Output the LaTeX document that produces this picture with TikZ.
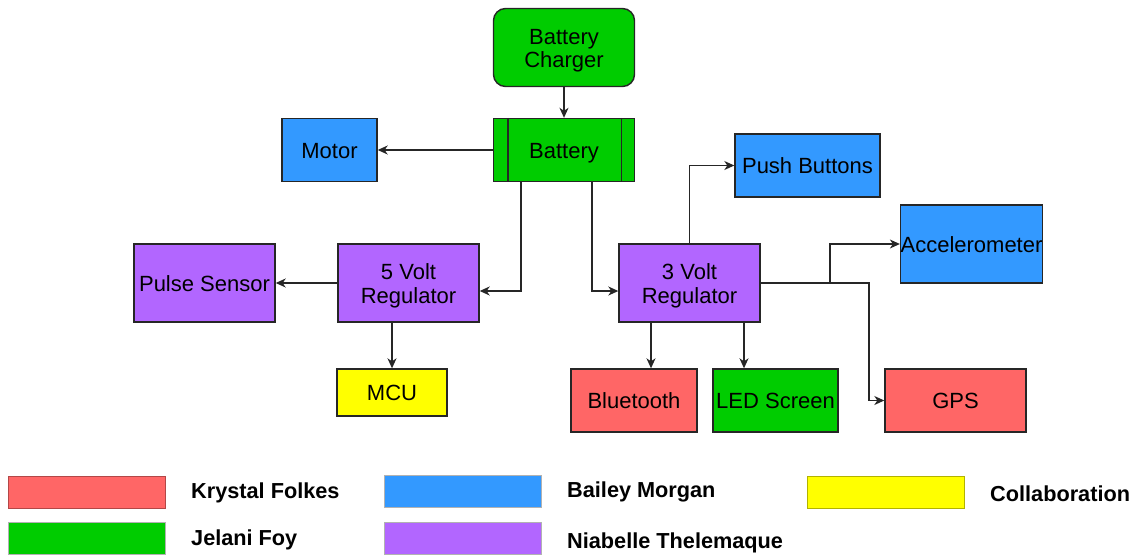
\documentclass[tikz,border=0pt]{standalone}
\usepackage{fontspec}
\setmainfont{Liberation Sans}
\usetikzlibrary{arrows.meta, positioning}

\definecolor{krystal}{HTML}{FF6666}
\definecolor{jelani}{HTML}{00CC00}
\definecolor{bailey}{HTML}{3399FF}
\definecolor{niabelle}{HTML}{B266FF}
\definecolor{collab}{HTML}{FFFF00}

\begin{document}
\begin{tikzpicture}[
    x=1pt, y=-1pt,
    every node/.style={align=center, inner sep=0pt, font=\fontsize{22}{23.5}\selectfont},
    blk/.style={draw=black!85, line width=1.4pt, rectangle, minimum width=141pt, minimum height=78pt,
        text height=16pt, text depth=0pt},
    twoline/.style={text height=40pt, text depth=0pt},
    short/.style={blk, minimum height=63pt},
    legbox/.style={draw=black!30, line width=0.8pt, minimum width=157pt, minimum height=32pt},
    legtext/.style={anchor=west, font=\bfseries\fontsize{21.7}{24}\selectfont},
    arrow/.style={-{Stealth[length=10pt, width=9pt, inset=3pt]}, line width=1.4pt, black!85}
]
\useasboundingbox (0,0) rectangle (1138,557);

% top of the chain
\node (charger) [blk, twoline, fill=jelani, rounded corners=12pt] at (564,47.5) {Battery\\Charger};
\node (bat) [short, fill=jelani] at (564,150) {Battery};
\draw[black!85, line width=1.4pt] ([xshift=15pt]bat.north west) -- ([xshift=15pt]bat.south west);
\draw[black!85, line width=1.4pt] ([xshift=-14pt]bat.north east) -- ([xshift=-14pt]bat.south east);
\node (motor) [short, fill=bailey, minimum width=95pt] at (329.5,150) {Motor};

% regulators
\node (reg5) [blk, twoline, fill=niabelle] at (408.5,283) {5 Volt\\Regulator};
\node (reg3) [blk, twoline, fill=niabelle] at (689.5,283) {3 Volt\\Regulator};
\node (pulse) [blk, fill=niabelle] at (204.5,283) {Pulse Sensor};
\node (push) [short, fill=bailey, minimum width=145pt] at (807.5,165.5) {Push Buttons};
\node (acc) [blk, fill=bailey] at (971.5,244) {Accelerometer};

% bottom row
\node (mcu) [blk, fill=collab, minimum width=110pt, minimum height=47pt] at (392,392.5) {MCU};
\node (blue) [short, fill=krystal, minimum width=126pt] at (634,400.5) {Bluetooth};
\node (led) [short, fill=jelani, minimum width=125pt] at (775.5,400.5) {LED Screen};
\node (gps) [short, fill=krystal] at (955.5,400.5) {GPS};

\coordinate (accbend) at (830,283);
\coordinate (gpsbend) at (869,283);

\draw[arrow] (charger) -- (bat);
\draw[arrow] (bat.west) -- (motor.east);
\draw[arrow] ([xshift=-43pt]bat.south) |- ([yshift=-8pt]reg5.east);
\draw[arrow] ([xshift=28pt]bat.south) |- ([yshift=-8pt]reg3.west);
\draw[arrow] (reg5.west) -- (pulse.east);
\draw[arrow] (reg5.south -| mcu.north) -- (mcu.north);
\draw[arrow] (reg3.north) |- (push.west);
\draw[arrow] (reg3.east) -- (accbend) |- (acc.west);
\draw[arrow] (reg3.east) -- (gpsbend) |- (gps.west);
\draw[arrow] ([xshift=-38.5pt]reg3.south) -- ([xshift=-38.5pt]reg3.south |- blue.north);
\draw[arrow] ([xshift=54.5pt]reg3.south) -- ([xshift=54.5pt]reg3.south |- led.north);

% legend
\node (legkry) [legbox, fill=krystal, draw=krystal!70!black] at (86.5,492) {};
\node (legjel) [legbox, fill=jelani] at (86.5,538) {};
\node (legbai) [legbox, fill=bailey] at (462.5,491) {};
\node (legnia) [legbox, fill=niabelle] at (462.5,538) {};
\node (legcol) [legbox, fill=collab, draw=collab!70!black] at (885.5,492.5) {};
\node (txtkry) [legtext] at (191,493) {Krystal Folkes};
\node (txtjel) [legtext] at (191,540) {Jelani Foy};
\node (txtbai) [legtext] at (567,492) {Bailey Morgan};
\node (txtnia) [legtext] at (567,543) {Niabelle Thelemaque};
\node (txtcol) [legtext] at (990,494) {Collaboration};

\end{tikzpicture}
\end{document}
